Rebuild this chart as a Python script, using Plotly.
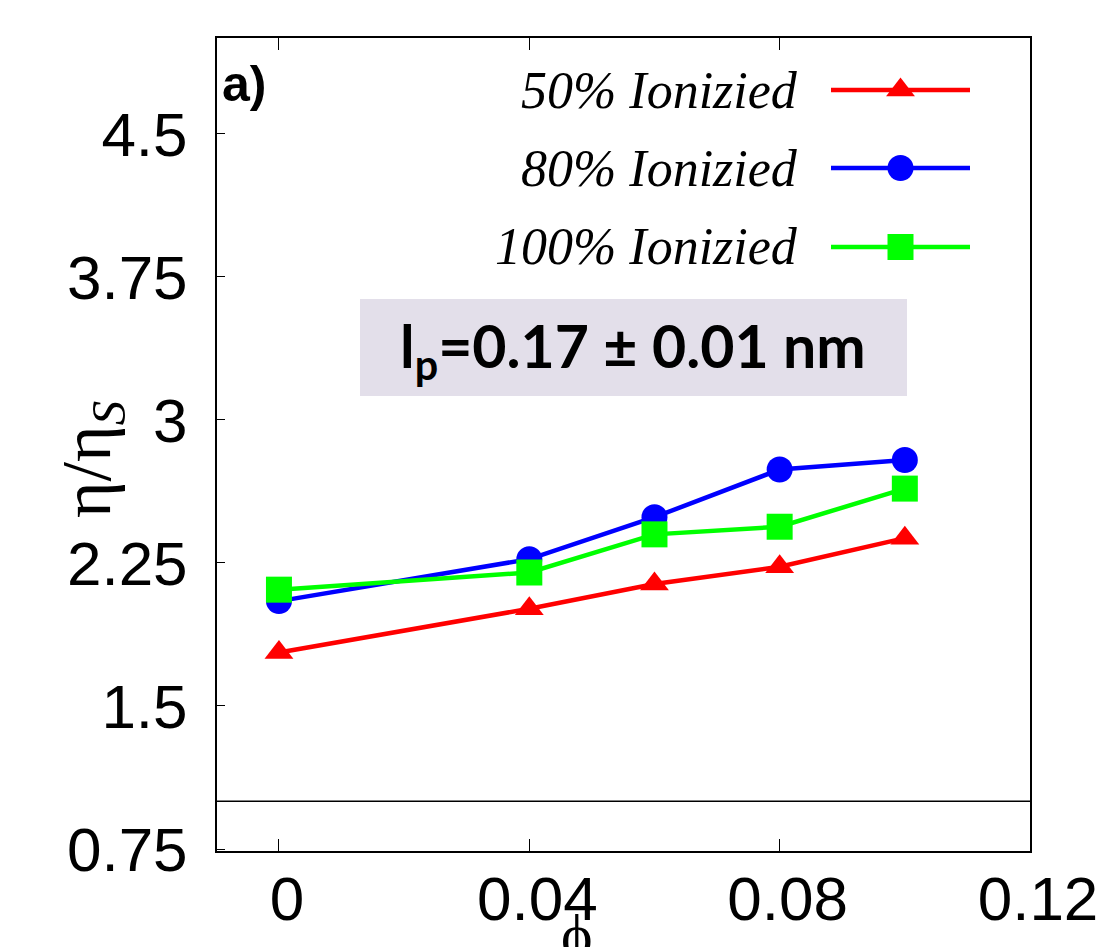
import plotly.graph_objects as go

# Volume fraction and relative viscosity for three ionization levels
phi = [0.0, 0.04, 0.06, 0.08, 0.10]
eta_50 = [1.78, 2.01, 2.14, 2.23, 2.38]
eta_80 = [2.05, 2.27, 2.49, 2.74, 2.79]
eta_100 = [2.11, 2.20, 2.40, 2.44, 2.64]

series_names = ["50% Ionizied", "80% Ionizied", "100% Ionizied"]
series_colors = ["#FF0000", "#0000FF", "#00FF00"]
series_symbols = ["triangle-up", "circle", "square"]
series_sizes = [25, 26, 26]

x_ticks = [0.0, 0.04, 0.08, 0.12]
x_ticklabels = ["0", "0.04", "0.08", "0.12"]
y_ticks = [0.75, 1.5, 2.25, 3.0, 3.75, 4.5]
y_ticklabels = ["0.75", "1.5", "2.25", "3", "3.75", "4.5"]
reference_level = 1.0

W, H = 1097, 947
ML, MR, MT, MB = 217, 67, 38, 96
PW = W - ML - MR
PH = H - MT - MB


def px_x(p):
    return (p - ML) / PW


def px_y(p):
    return (H - MB - p) / PH


fig = go.Figure()

for name, ys, col, sym, sz in zip(series_names, [eta_50, eta_80, eta_100],
                                  series_colors, series_symbols, series_sizes):
    fig.add_trace(go.Scatter(
        x=phi, y=ys, mode="lines+markers", name=name,
        line=dict(color=col, width=4.5),
        marker=dict(symbol=sym, size=sz, color=col, opacity=1, line=dict(width=0)),
        showlegend=False, cliponaxis=False,
    ))

# Key: text on the left, line sample with marker on the right
key_rows = [90, 168, 247]
for name, col, sym, sz, row in zip(series_names, series_colors, series_symbols,
                                   series_sizes, key_rows):
    fig.add_trace(go.Scatter(
        x=[0, 0.5, 1], y=[px_y(row)] * 3, mode="lines+markers",
        xaxis="x2", yaxis="y2",
        line=dict(color=col, width=4.5),
        marker=dict(symbol=sym, size=[0, sz, 0], color=col, opacity=1, line=dict(width=0)),
        showlegend=False, hoverinfo="skip", cliponaxis=False,
    ))
    fig.add_annotation(
        xref="paper", yref="paper", x=px_x(800), y=px_y(row),
        xanchor="right", yanchor="middle", showarrow=False,
        text=f"<i>{name}</i>",
        font=dict(family="Liberation Serif, Times New Roman, serif", size=52, color="black"),
    )

fig.add_shape(type="line", xref="paper", yref="y", x0=0, x1=1,
              y0=reference_level, y1=reference_level,
              line=dict(color="black", width=1.5))

fig.add_shape(type="rect", xref="paper", yref="paper",
              x0=px_x(360), x1=px_x(907), y0=px_y(396), y1=px_y(299),
              fillcolor="#E3DFEA", line=dict(width=0), layer="below")
fig.add_annotation(
    xref="paper", yref="paper", x=px_x(633), y=px_y(349),
    xanchor="center", yanchor="middle", showarrow=False,
    text="<b>l<sub>p</sub>=0.17 ± 0.01 nm</b>",
    font=dict(family="Lato, Open Sans, sans-serif", size=59, color="black"),
)

fig.add_annotation(
    xref="paper", yref="paper", x=px_x(220), y=px_y(84),
    xanchor="left", yanchor="middle", showarrow=False,
    text="<b>a)</b>",
    font=dict(family="Liberation Sans, Arial, sans-serif", size=50, color="black"),
)

# Axis titles
fig.add_annotation(
    xref="paper", yref="paper", x=px_x(92), y=px_y(460),
    xanchor="center", yanchor="middle", showarrow=False, textangle=-90,
    text="η/η<sub><i>S</i></sub>",
    font=dict(family="Liberation Serif, Times New Roman, serif", size=70, color="black"),
)
fig.add_annotation(
    xref="paper", yref="paper", x=px_x(577), y=px_y(900),
    xanchor="center", yanchor="top", showarrow=False,
    text="ϕ",
    font=dict(family="Liberation Serif, Times New Roman, serif", size=60, color="black"),
)

tick_font = dict(family="Liberation Sans, Arial, sans-serif", size=62, color="black")

fig.update_layout(
    width=W, height=H,
    margin=dict(l=ML, r=MR, t=MT, b=MB, autoexpand=False),
    paper_bgcolor="white", plot_bgcolor="rgba(0,0,0,0)",
    font=dict(family="Liberation Sans, Arial, sans-serif", color="black"),
    xaxis=dict(
        range=[-0.0099, 0.12], tickvals=x_ticks, ticktext=x_ticklabels,
        ticks="inside", ticklen=12, tickwidth=1, tickcolor="black",
        showline=True, linecolor="black", linewidth=2, mirror="allticks",
        showgrid=False, zeroline=False, tickfont=tick_font,
        ticklabelshift=8, ticklabelstandoff=-7,
        ticklabeloverflow="allow", automargin=False,
    ),
    yaxis=dict(
        range=[0.7395, 5.003], tickvals=y_ticks, ticktext=y_ticklabels,
        ticks="inside", ticklen=8, tickwidth=1, tickcolor="black",
        showline=True, linecolor="black", linewidth=2, mirror=True,
        showgrid=False, zeroline=False, tickfont=tick_font,
        ticklabelstandoff=15, automargin=False,
    ),
    xaxis2=dict(domain=[px_x(831), px_x(970)], range=[0, 1], anchor="y2",
                visible=False, fixedrange=True, automargin=False),
    yaxis2=dict(domain=[0, 1], range=[0, 1], anchor="x2",
                visible=False, fixedrange=True, automargin=False),
)

fig.write_html("out.html")
